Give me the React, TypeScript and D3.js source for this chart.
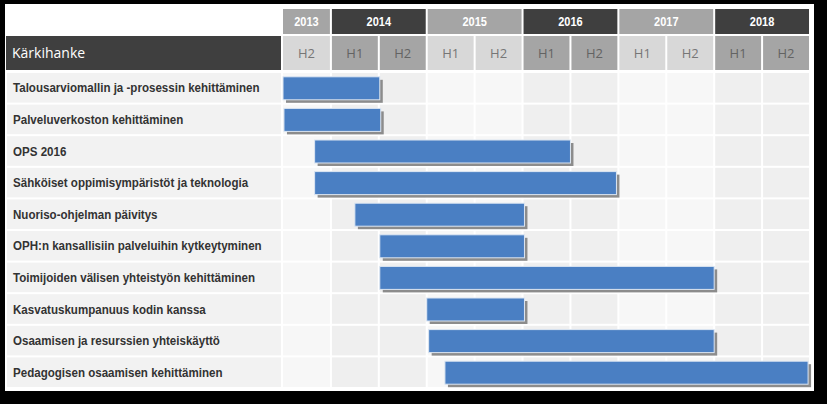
import React from "react";
import * as d3 from "d3";

const categories = [
  "Talousarviomallin ja -prosessin kehittäminen",
  "Palveluverkoston kehittäminen",
  "OPS 2016",
  "Sähköiset oppimisympäristöt ja teknologia",
  "Nuoriso-ohjelman päivitys",
  "OPH:n kansallisiin palveluihin kytkeytyminen",
  "Toimijoiden välisen yhteistyön kehittäminen",
  "Kasvatuskumpanuus kodin kanssa",
  "Osaamisen ja resurssien yhteiskäyttö",
  "Pedagogisen osaamisen kehittäminen",
];
const starts = [2013.5, 2013.51, 2013.83, 2013.83, 2014.25, 2014.51, 2014.51, 2015.0, 2015.02, 2015.19];
const ends = [2014.51, 2014.52, 2016.5, 2016.98, 2016.02, 2016.02, 2018.0, 2016.02, 2018.0, 2018.98];
const years = [2013, 2014, 2015, 2016, 2017, 2018];
const halves = ["H2", "H1", "H2", "H1", "H2", "H1", "H2", "H1", "H2", "H1", "H2"];
const headerTitle = "Kärkihanke";

const W = 827;
const H = 404;
const panel = { x0: 5, y0: 4, x1: 814, y1: 391 };
const x = d3.scaleLinear().domain([2013.5, 2019]).range([283, 810]);
const y = d3.scaleBand<number>().domain(d3.range(categories.length)).range([72, 388]).paddingInner(0);
const yearRow = { y0: 9, y1: 34 };
const subRow = { y0: 36, y1: 70 };
const labelX0 = 7;
const labelX1 = 281;

const halfCells = halves.map((h, i) => {
  const s = 2013.5 + i * 0.5;
  return { label: h, s, e: s + 0.5, year: Math.floor(s) };
});

export default function App() {
  const barH = 23;
  const boldFont = "'Liberation Sans', Arial, sans-serif";
  return (
    <svg width={W} height={H} style={{ position: "absolute", left: 0, top: 0, display: "block" }}>
      <rect x={0} y={0} width={W} height={H} fill="#000" />
      <rect x={panel.x0} y={panel.y0} width={panel.x1 - panel.x0} height={panel.y1 - panel.y0} fill="#fff" />

      {/* year header */}
      {years.map((yr, i) => {
        const s = Math.max(yr, 2013.5);
        const e = yr + 1;
        const x0 = x(s) + (i === 0 ? 0 : 1);
        const x1 = x(e) - 1;
        const dark = i % 2 === 1;
        return (
          <g key={yr}>
            <rect x={x0} y={yearRow.y0} width={x1 - x0} height={yearRow.y1 - yearRow.y0} fill={dark ? "#3f3f3f" : "#a5a5a5"} />
            <text
              transform={`translate(${(x0 + x1) / 2},${(yearRow.y0 + yearRow.y1) / 2 + 4.5}) scale(0.88,1)`}
              textAnchor="middle"
              fill="#fff"
              fontFamily={boldFont}
              fontWeight="bold"
              fontSize={12.5}
            >
              {yr}
            </text>
          </g>
        );
      })}

      {/* sub header */}
      <rect x={labelX0 - 1} y={subRow.y0} width={labelX1 - labelX0 + 1} height={subRow.y1 - subRow.y0} fill="#3f3f3f" />
      <text x={12} y={(subRow.y0 + subRow.y1) / 2 + 5} fill="#fff" fontFamily="'Open Sans', 'DejaVu Sans', sans-serif" fontSize={14}>
        {headerTitle}
      </text>
      {halfCells.map((c, i) => {
        const x0 = x(c.s) + (i === 0 ? 0 : 1);
        const x1 = x(c.e) - 1;
        const dark = c.year % 2 === 0;
        return (
          <g key={"h" + i}>
            <rect x={x0} y={subRow.y0} width={x1 - x0} height={subRow.y1 - subRow.y0} fill={dark ? "#a5a5a5" : "#d8d8d8"} />
            <text
              x={(x0 + x1) / 2}
              y={(subRow.y0 + subRow.y1) / 2 + 5}
              textAnchor="middle"
              fill={dark ? "#636363" : "#767676"}
              fontFamily="'Open Sans', 'DejaVu Sans', sans-serif"
              fontSize={13}
            >
              {c.label}
            </text>
          </g>
        );
      })}

      {/* rows */}
      {categories.map((cat, r) => {
        const y0 = (y(r) as number) + 1;
        const h = y.bandwidth() - 2;
        return (
          <g key={cat}>
            <rect x={labelX0} y={y0} width={labelX1 - labelX0} height={h} fill="#f2f2f2" />
            {halfCells.map((c, i) => {
              const x0 = x(c.s) + (i === 0 ? 0 : 1);
              const x1 = x(c.e) - 1;
              const dark = c.year % 2 === 0;
              return <rect key={i} x={x0} y={y0} width={x1 - x0} height={h} fill={dark ? "#efefef" : "#f7f7f7"} />;
            })}
            <text
              transform={`translate(13,${(y(r) as number) + y.bandwidth() / 2 + 4.5}) scale(0.89,1)`}
              fill="#333"
              fontFamily={boldFont}
              fontWeight="bold"
              fontSize={13}
            >
              {cat}
            </text>
          </g>
        );
      })}

      {/* bars */}
      {categories.map((cat, r) => {
        const bx0 = x(starts[r]);
        const bx1 = x(ends[r]);
        const by = (y(r) as number) + (y.bandwidth() - barH) / 2 + 0.5;
        return (
          <g key={"b" + r}>
            <rect x={bx0 + 3} y={by + 3} width={bx1 - bx0} height={barH} fill="#8c8c8c" />
            <rect x={bx0} y={by} width={bx1 - bx0} height={barH} fill="#4a7fc3" stroke="#dce6f2" strokeWidth={1} />
          </g>
        );
      })}
    </svg>
  );
}
